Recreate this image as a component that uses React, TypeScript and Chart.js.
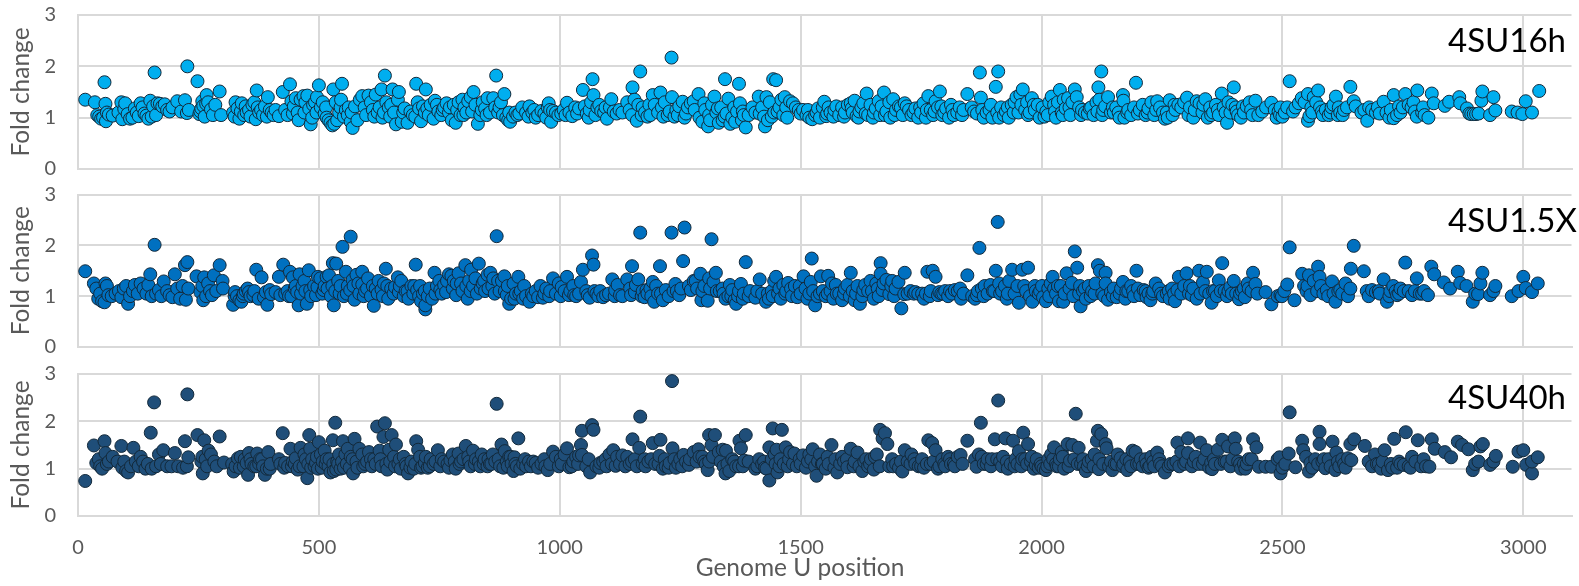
import React, { useEffect, useRef } from "react";
import { Chart, registerables } from "chart.js";

Chart.register(...registerables);

type Pt = [number, number];

const xTickValues = [0, 500, 1000, 1500, 2000, 2500, 3000];
const xMax = 3100;
const yMax = 3;
const panelNames = ["4SU16h", "4SU1.5X", "4SU40h"];
const yAxisLabel = "Fold change";
const xAxisLabel = "Genome U position";

// [genome U position, fold change]
const series16h: Pt[] = [
[15,1.35],[35,1.3],[40,1.05],[44,1.02],[48,.98],[52,1.0],[55,1.69],[57,1.27],[58,.93],[60,1.1],[64,1.06],[72,1.04],[84,1.1],[90,1.3],[92,.97],[96,1.17],[98,1.28],
[103,1.07],[108,.98],[113,1.0],[118,1.18],[122,1.1],[126,1.03],[130,1.28],[134,1.2],[138,1.08],[142,1.04],[146,.98],[150,1.33],[153,1.02],[156,1.22],[159,1.88],[162,1.05],[165,1.28],[170,1.27],[175,1.22],[180,1.26],[185,1.15],[190,1.12],[196,1.2],
[206,1.32],[214,1.12],[222,1.34],[226,1.09],[227,2.0],[230,1.15],[248,1.71],[252,1.07],[254,1.12],[256,1.18],[258,1.32],[260,1.23],[263,1.02],[266,1.27],[267,1.44],[270,1.3],[276,1.16],[280,1.05],[285,1.25],[294,1.51],[297,1.05],
[322,1.1],[327,1.3],[331,1.18],[335,.98],[340,1.28],[345,1.05],[350,1.1],[355,1.15],[362,1.25],[366,1.3],[369,.97],[371,1.53],[376,1.1],[380,1.15],[384,1.05],[388,1.22],[394,1.4],[398,1.15],[402,1.1],[406,1.05],
[417,1.03],[425,1.5],[430,1.15],[440,1.65],[443,1.32],[448,1.22],[452,1.38],[456,1.1],[458,.95],[462,1.35],[468,1.42],[472,1.3],[476,1.43],[480,1.17],[483,.87],[488,1.25],[492,1.3],[496,1.4],[500,1.63],
[504,1.2],[508,1.3],[512,1.08],[516,1.0],[520,.95],[524,.9],[528,.85],[530,1.55],[532,.88],[535,1.3],[538,.95],[542,1.1],[546,1.35],[548,1.66],[552,1.02],[556,1.15],[562,1.2],[566,.92],[570,.8],[575,1.22],[580,.95],[585,1.35],[590,1.42],
[598,1.05],[603,1.43],[608,1.3],[612,1.15],[618,1.45],[622,1.1],[626,1.2],[630,1.55],[632,1.0],[637,1.82],[640,1.3],[645,1.2],[650,1.25],[653,1.55],[656,1.1],[660,.87],[664,1.35],[666,1.5],[672,.92],[678,1.18],[684,.9],[690,1.12],[695,1.05],[702,1.66],[705,1.3],
[708,1.18],[712,.93],[716,1.22],[720,1.1],[722,1.55],[728,1.05],[732,1.25],[738,.98],[741,1.33],[748,1.12],[754,1.05],[760,1.2],[765,1.28],[770,1.1],[776,.95],[780,1.25],[784,.9],[790,1.3],[794,1.05],[798,1.35],
[802,1.2],[806,1.1],[810,1.32],[815,1.4],[821,1.5],[825,1.25],[830,.88],[835,1.05],[840,1.3],[845,1.18],[850,1.38],[855,1.1],[862,1.38],[868,1.82],[872,1.1],[878,1.3],[882,1.05],[885,1.46],[889,1.0],[893,.95],[897,.92],
[903,1.02],[908,1.1],[912,1.05],[916,1.08],[922,1.2],[930,1.1],[937,1.22],[943,1.1],[950,1.0],[955,1.05],[962,1.13],[968,1.08],[975,1.2],[977,1.28],[980,1.15],[982,.92],[986,1.13],[992,1.1],[997,1.05],
[1003,1.08],[1008,1.15],[1015,1.29],[1020,1.1],[1026,1.03],[1032,1.2],[1040,1.18],[1048,1.54],[1052,1.22],[1056,1.08],[1060,1.0],[1065,1.3],[1068,1.75],[1070,1.44],[1074,1.05],[1078,1.2],[1082,1.25],[1086,1.13],[1092,1.1],[1098,.98],
[1104,1.2],[1107,1.36],[1112,1.12],[1118,1.08],[1124,1.15],[1140,1.3],[1145,1.15],[1151,1.59],[1155,1.35],[1160,.94],[1163,1.25],[1167,1.9],[1172,1.2],[1177,1.1],[1182,1.02],[1188,1.05],[1193,1.44],[1197,1.25],
[1204,1.1],[1209,1.49],[1212,1.2],[1218,1.3],[1224,1.05],[1228,1.12],[1232,2.17],[1233,1.4],[1238,1.02],[1242,1.15],[1248,1.22],[1255,1.31],[1259,1.0],[1266,1.2],[1272,1.28],[1278,1.32],[1288,1.46],[1290,1.0],[1296,.92],
[1302,1.15],[1308,.83],[1310,1.05],[1316,1.25],[1321,1.41],[1325,1.1],[1330,.9],[1335,1.2],[1338,.95],[1343,1.75],[1346,1.08],[1350,1.37],[1354,.88],[1358,1.0],[1364,.92],[1368,1.12],[1372,1.66],[1374,1.28],[1378,.95],[1382,1.05],[1386,.81],[1392,1.05],
[1406,1.1],[1413,1.41],[1420,1.2],[1426,.83],[1429,1.4],[1432,.95],[1436,1.3],[1440,1.02],[1443,1.75],[1449,1.73],[1452,1.12],[1456,1.2],[1460,1.35],[1464,1.05],[1467,1.4],[1472,1.0],[1478,1.32],[1484,1.28],[1490,1.2],[1496,1.15],
[1505,1.15],[1512,1.05],[1518,1.0],[1524,.97],[1530,1.05],[1536,1.18],[1540,1.0],[1546,1.2],[1549,1.31],[1553,1.03],[1558,1.2],[1562,1.1],[1568,1.02],[1574,1.22],[1580,1.05],[1586,1.2],[1592,1.1],[1598,1.25],
[1604,1.28],[1608,1.1],[1612,1.33],[1616,1.03],[1620,1.0],[1626,1.2],[1630,1.28],[1637,1.47],[1640,1.05],[1645,1.25],[1650,1.0],[1656,1.18],[1662,1.32],[1668,1.22],[1673,1.49],[1678,1.12],[1684,1.3],[1686,1.0],[1692,1.36],[1698,1.15],
[1704,1.22],[1708,1.2],[1716,1.28],[1720,1.22],[1730,1.05],[1738,1.18],[1744,1.0],[1750,1.1],[1755,1.28],[1760,1.0],[1765,1.42],[1770,1.15],[1775,1.05],[1780,1.32],[1785,1.2],[1789,1.51],[1794,1.05],[1798,1.1],
[1802,1.18],[1808,1.0],[1812,1.25],[1818,1.05],[1825,1.1],[1830,1.2],[1838,1.15],[1846,1.46],[1860,1.12],[1866,1.08],[1872,1.88],[1874,1.39],[1880,1.0],[1886,1.1],[1892,1.15],[1898,1.0],
[1905,1.6],[1908,1.1],[1910,1.9],[1916,1.2],[1922,1.05],[1926,1.12],[1932,1.0],[1938,1.25],[1944,1.3],[1948,1.4],[1952,1.1],[1956,1.45],[1961,1.55],[1966,1.15],[1970,1.3],[1975,1.1],[1980,1.38],[1986,1.15],[1992,1.25],[1996,1.0],
[2002,1.2],[2006,1.02],[2010,1.12],[2016,1.3],[2021,1.41],[2026,1.25],[2030,1.0],[2034,1.3],[2038,1.54],[2042,1.1],[2046,1.35],[2050,1.18],[2055,1.38],[2060,1.05],[2064,1.3],[2069,1.55],[2073,1.4],[2078,1.2],[2084,1.15],[2090,1.1],[2096,1.08],
[2103,1.2],[2108,1.05],[2114,1.3],[2118,1.59],[2120,1.35],[2124,1.9],[2126,1.05],[2132,1.22],[2138,1.4],[2144,1.1],[2150,1.1],[2155,1.2],[2162,1.0],[2169,1.44],[2170,1.33],[2172,1.0],[2180,1.15],[2186,1.05],[2192,1.2],[2196,1.68],
[2204,1.15],[2210,1.25],[2216,1.05],[2222,1.18],[2228,1.3],[2234,1.05],[2240,1.32],[2246,1.2],[2252,1.1],[2256,.98],[2262,1.0],[2266,1.34],[2272,1.05],[2278,1.15],[2284,1.25],[2290,1.2],[2296,1.3],[2302,1.39],
[2308,1.2],[2315,1.0],[2322,1.32],[2328,1.28],[2334,1.1],[2340,1.36],[2345,1.0],[2350,1.2],[2356,1.1],[2362,1.25],[2368,1.05],[2374,1.47],[2378,1.2],[2385,.9],[2388,1.3],[2392,1.1],[2396,1.25],[2399,1.59],
[2403,1.2],[2408,1.05],[2414,1.0],[2420,1.1],[2426,1.22],[2432,1.3],[2438,1.05],[2444,1.33],[2450,1.05],[2458,1.12],[2466,1.2],[2477,1.29],[2484,1.15],[2488,1.0],[2492,1.12],[2496,1.2],[2500,1.02],
[2505,1.1],[2515,1.71],[2522,1.12],[2534,1.28],[2540,1.38],[2546,1.3],[2553,1.46],[2553,.94],[2556,1.03],[2560,1.2],[2565,1.4],[2570,1.3],[2574,1.53],[2578,1.2],[2584,1.05],[2590,1.15],[2596,1.05],
[2602,1.2],[2606,1.25],[2611,1.41],[2615,1.05],[2620,1.1],[2628,1.15],[2634,1.2],[2641,1.6],[2648,1.32],[2664,1.1],[2670,1.15],[2676,.94],[2680,1.2],[2686,1.15],[2694,1.1],[2702,1.08],
[2710,1.31],[2716,1.1],[2722,1.0],[2731,1.44],[2731,.99],[2738,1.05],[2745,1.1],[2750,1.2],[2755,1.46],[2762,1.25],[2768,1.2],[2772,1.3],[2779,1.02],[2780,1.53],[2790,1.1],[2795,1.05],
[2803,1.0],[2810,1.47],[2814,1.28],[2837,1.23],[2846,1.31],[2867,1.40],[2869,1.28],[2883,1.18],[2888,1.08],[2892,1.07],[2897,1.07],[2902,1.07],[2907,1.08],[2913,1.33],[2915,1.51],[2931,1.05],[2938,1.40],[2942,1.14],[2976,1.12],[2988,1.10],[2998,1.07],[3005,1.32],[3018,1.10],[3033,1.52],
];

// Points packed inside the dense band of each panel
const band16h: Pt[] = [
[325,1.02],[338,1.12],[348,1.22],[358,1.02],[373,1.2],[392,1.02],[410,1.15],[435,1.05],[446,1.08],[470,1.1],[486,1.0],[495,1.1],[515,1.2],[545,1.2],[560,1.05],[568,1.1],[595,1.2],[615,1.02],[635,1.1],[648,1.02],[675,1.1],[700,1.02],[725,1.18],[745,1.25],[757,1.15],[772,1.2],[787,1.15],[800,1.05],[818,1.12],[838,1.15],[848,1.05],[866,1.2],[875,1.2],[895,1.1],[935,1.02],[947,1.15],[972,1.0],[1012,1.05],[1036,1.08],[1062,1.15],[1095,1.2],[1130,1.1],[1150,1.05],[1170,1.05],[1186,1.25],[1215,1.02],[1245,1.05],[1262,1.08],[1280,1.15],[1300,1.28],[1312,.95],[1328,1.18],[1342,1.02],[1362,1.2],[1380,1.12],[1400,1.2],[1415,1.08],[1424,1.02],[1445,1.1],[1470,1.2],[1500,1.08],[1515,1.15],[1533,1.1],[1555,1.08],[1570,1.15],[1590,1.02],[1606,1.18],[1622,1.12],[1635,1.08],[1652,1.1],[1665,1.05],[1675,1.05],[1695,1.05],[1712,1.05],[1725,1.15],[1734,1.1],[1748,1.2],[1762,1.15],[1778,1.12],[1792,1.22],[1815,1.15],[1835,1.05],[1855,1.2],[1877,1.15],[1895,1.25],[1912,1.0],[1930,1.2],[1942,1.1],[1958,1.25],[1972,1.05],[1984,1.25],[2013,1.05],[2028,1.12],[2044,1.05],[2058,1.2],[2082,1.05],[2100,1.18],[2116,1.12],[2128,1.15],[2148,1.2],[2160,1.1],[2178,1.1],[2200,1.08],[2220,1.1],[2238,1.15],[2260,1.1],[2276,1.25],[2305,1.05],[2318,1.15],[2336,1.25],[2352,1.05],[2366,1.15],[2382,1.1],[2405,1.12],[2418,1.22],[2435,1.15],[2495,1.05],[2510,1.2],[2527,1.2],[2562,1.1],[2582,1.12],[2600,1.1],[2617,1.2],[2625,1.05],[2652,1.22],[2698,1.2],[2725,1.15],[2742,1.22],[2775,1.12],[2792,1.2],
];

const series15x: Pt[] = [
[15,1.49],[33,1.25],[38,1.15],[42,.95],[46,1.05],[50,.9],[55,.88],[57,1.25],[60,1.2],[63,1.02],[70,1.0],[78,1.05],[85,1.1],[90,.98],[95,1.15],[100,1.2],
[104,.85],[108,1.0],[114,1.1],[118,1.22],[124,1.05],[130,1.25],[136,1.15],[142,1.05],[146,1.22],[150,1.43],[153,1.0],[159,2.01],[162,1.05],[168,1.12],[173,1.0],[178,1.29],[185,1.1],[190,1.02],[196,.98],
[201,1.43],[206,1.15],[212,.95],[217,1.2],[222,1.61],[224,.93],[227,1.67],[229,1.15],[246,1.39],[254,1.08],[258,1.2],[260,.92],[262,1.37],[266,1.0],[270,1.25],[274,1.1],[278,1.02],[282,1.41],[287,1.1],[294,1.61],[300,1.30],[301,1.15],
[322,.83],[326,1.08],[330,1.0],[335,.92],[339,.89],[344,1.05],[348,1.1],[352,1.15],[358,1.0],[364,1.02],[370,1.52],[375,.95],[381,1.37],[386,.98],[390,1.08],[393,.83],[398,1.12],[401,1.04],
[417,1.38],[420,1.02],[426,1.62],[430,1.05],[435,1.1],[440,1.48],[443,1.0],[446,1.37],[450,1.15],[455,1.08],[458,.82],[460,1.43],[466,1.2],[472,1.1],[475,.85],[479,1.51],[484,1.0],[490,1.2],[494,1.02],[498,1.38],
[503,1.35],[507,1.05],[512,1.2],[516,1.38],[521,1.41],[525,1.0],[529,1.65],[531,.82],[534,1.1],[536,1.64],[540,1.3],[545,1.2],[549,1.97],[552,1.0],[556,1.48],[560,1.2],[566,2.17],[570,1.32],[574,.93],[578,1.42],[584,1.05],[590,1.48],[590,1.23],[596,1.1],
[602,1.35],[608,1.0],[614,.81],[618,1.15],[624,1.3],[630,1.13],[635,1.25],[639,1.54],[644,.95],[650,1.15],[655,1.05],[664,1.37],[668,1.2],[671,1.30],[676,1.0],[680,1.1],[686,.95],[692,1.2],[696,1.05],[701,1.62],
[704,1.12],[708,1.0],[712,.9],[716,1.05],[721,.74],[721,.82],[726,1.0],[730,1.15],[735,.95],[740,1.46],[745,1.2],[750,1.3],[755,1.05],[760,1.22],[764,1.08],[770,1.43],[775,1.4],[780,1.3],[785,1.02],[790,1.45],[795,1.25],
[804,1.61],[809,.95],[812,1.3],[816,1.52],[820,1.2],[825,1.35],[832,1.64],[836,1.15],[840,1.25],[845,1.1],[850,1.42],[856,1.46],[860,1.2],[865,1.05],[869,2.18],[875,1.1],[880,1.3],[885,1.39],[890,1.02],[895,.85],[899,.95],
[904,1.25],[909,1.05],[914,1.38],[919,1.1],[924,.95],[930,1.0],[937,.89],[942,1.05],[950,1.1],[955,.98],[960,1.2],[965,.97],[972,1.15],[980,1.1],[986,1.35],[992,1.05],[998,1.25],
[1004,1.18],[1010,1.1],[1015,1.38],[1019,1.02],[1028,1.2],[1034,1.0],[1040,1.05],[1044,1.28],[1048,1.52],[1055,1.1],[1062,.97],[1067,1.80],[1070,1.62],[1076,1.05],[1084,1.1],[1090,.98],[1096,1.02],
[1102,1.05],[1109,1.33],[1114,1.0],[1120,1.22],[1125,1.02],[1140,1.33],[1146,1.15],[1150,1.59],[1156,1.08],[1163,1.33],[1167,2.25],[1172,1.1],[1176,.98],[1182,1.05],[1188,1.15],[1193,1.28],[1196,.89],
[1204,1.05],[1208,1.59],[1214,.92],[1220,1.12],[1226,1.0],[1232,2.25],[1236,1.1],[1240,1.24],[1248,1.02],[1256,1.69],[1259,2.35],[1268,1.2],[1278,1.3],[1285,1.15],[1292,1.44],[1294,.92],[1300,1.2],
[1307,.91],[1310,1.35],[1315,2.12],[1319,1.28],[1324,1.46],[1332,1.1],[1338,1.15],[1344,.95],[1350,1.0],[1353,1.22],[1358,1.12],[1363,.92],[1366,.85],[1370,1.0],[1376,1.24],[1382,1.05],[1386,1.67],[1392,1.0],
[1406,.97],[1415,1.33],[1420,1.05],[1428,.89],[1434,.95],[1440,1.1],[1445,1.3],[1449,1.38],[1453,1.05],[1459,.95],[1464,1.22],[1470,1.1],[1474,1.26],[1480,1.15],[1488,1.2],[1493,.98],[1500,1.05],
[1506,1.39],[1510,1.15],[1514,.95],[1521,1.28],[1523,1.74],[1526,1.1],[1530,.82],[1535,1.0],[1542,1.39],[1546,1.1],[1552,1.0],[1557,1.40],[1562,1.1],[1568,.95],[1573,1.22],[1580,1.05],[1586,.92],[1592,1.15],[1597,1.22],
[1604,1.46],[1608,1.1],[1612,.92],[1618,1.2],[1623,.85],[1628,1.0],[1634,1.22],[1640,1.1],[1645,1.3],[1652,.95],[1657,1.25],[1662,1.0],[1666,1.65],[1666,1.44],[1672,1.25],[1678,1.32],[1684,1.04],[1690,1.3],[1697,1.15],
[1703,1.28],[1709,.76],[1715,1.04],[1716,1.46],[1728,1.1],[1738,1.08],[1744,1.05],[1752,1.05],[1756,.95],[1763,1.48],[1768,1.0],[1774,1.5],[1780,1.38],[1785,1.02],[1792,1.05],[1800,1.1],
[1806,1.0],[1814,1.05],[1820,1.12],[1826,1.1],[1831,1.15],[1833,.95],[1846,1.41],[1862,.95],[1868,1.1],[1871,1.95],[1876,1.15],[1882,1.2],[1888,1.05],[1894,1.22],[1899,1.1],
[1905,1.5],[1909,2.46],[1912,1.25],[1918,1.1],[1924,1.2],[1928,.95],[1933,1.3],[1939,1.52],[1944,1.05],[1953,.87],[1960,1.52],[1964,1.2],[1972,1.56],[1976,1.0],[1981,.89],[1988,1.1],[1994,1.05],
[1997,1.10],[2003,.98],[2009,.90],[2014,1.15],[2019,1.25],[2023,1.38],[2030,1.05],[2036,.9],[2040,1.2],[2045,.89],[2052,1.45],[2058,1.15],[2063,1.26],[2069,1.88],[2074,1.56],[2078,1.05],[2081,.80],[2086,1.1],[2092,.95],[2098,1.2],
[2105,1.1],[2112,1.25],[2117,1.61],[2121,1.5],[2126,1.05],[2133,1.46],[2133,1.25],[2138,.93],[2144,1.08],[2150,1.15],[2156,.98],[2162,1.05],[2169,1.28],[2174,.95],[2180,1.1],[2186,1.2],[2192,1.0],[2197,1.5],
[2205,1.02],[2212,1.12],[2218,.98],[2222,1.05],[2226,.92],[2232,1.1],[2237,1.25],[2244,1.15],[2252,1.0],[2260,1.05],[2266,.95],[2271,1.15],[2277,.90],[2285,1.38],[2290,1.05],[2296,1.2],[2301,1.45],
[2308,1.2],[2315,1.15],[2322,.95],[2327,1.5],[2335,1.27],[2343,1.48],[2348,1.05],[2353,.87],[2360,1.1],[2368,1.31],[2375,1.65],[2380,1.1],[2385,1.0],[2392,1.18],[2399,1.30],[2404,1.05],[2410,.94],[2416,1.1],[2422,.98],
[2430,1.15],[2439,1.46],[2444,1.24],[2448,1.05],[2465,1.08],[2477,.84],[2490,1.0],[2496,1.02],[2499,1.0],[2504,1.1],[2510,1.23],[2515,1.96],[2525,.92],
[2541,1.44],[2545,1.2],[2550,1.1],[2555,1.41],[2558,1.02],[2565,1.3],[2574,1.58],[2577,1.38],[2585,1.05],[2592,1.12],[2603,1.29],[2606,1.05],[2610,.89],[2616,1.1],[2624,1.05],[2631,1.25],[2641,1.15],[2642,1.54],[2648,1.99],[2669,1.49],
[2675,1.1],[2679,1.0],[2686,1.12],[2694,1.08],[2702,1.05],[2710,1.33],[2717,.89],[2724,1.1],[2730,1.2],[2738,1.02],[2745,1.15],[2755,1.66],[2762,1.1],[2769,1.02],[2779,1.35],[2785,1.05],[2794,1.1],[2802,1.02],
[2809,1.58],[2815,1.43],[2835,1.27],[2848,1.15],[2864,1.48],[2869,1.26],[2882,1.2],[2895,.89],[2900,1.05],[2906,1.04],[2911,1.25],[2915,1.46],[2931,1.02],[2938,1.1],[2942,1.2],[2976,1.0],[2990,1.1],[3000,1.38],[3005,1.16],[3018,1.08],[3030,1.25],
];

const band15x: Pt[] = [
[325,1.0],[342,1.0],[355,1.08],[366,1.1],[410,1.08],[438,1.0],[452,1.2],[463,1.05],[470,1.3],[482,1.12],[497,1.18],[510,1.12],[518,1.15],[528,1.2],[543,1.05],[558,1.05],[565,1.12],[572,1.2],[582,1.25],[593,1.0],[600,1.15],[612,1.2],[622,1.05],[633,1.0],[642,1.2],[658,1.18],[666,1.08],[684,1.1],[698,1.2],[710,1.2],[720,1.1],[742,1.05],[752,1.12],[766,1.3],[778,1.15],[786,1.25],[798,1.1],[806,1.2],[815,1.1],[828,1.05],[843,1.3],[852,1.15],[862,1.35],[872,1.3],[886,1.1],[892,1.2],[906,.95],[916,1.05],[926,1.2],[945,1.0],[968,1.05],[978,1.0],[1002,1.0],[1022,1.1],[1030,1.02],[1058,1.02],[1072,1.1],[1080,1.0],[1115,1.12],[1130,1.0],[1148,1.02],[1158,1.22],[1170,1.0],[1180,1.12],[1190,1.0],[1200,1.2],[1210,1.05],[1243,1.1],[1252,1.15],[1272,1.12],[1282,1.3],[1296,1.1],[1312,1.15],[1326,1.1],[1340,1.05],[1356,1.0],[1372,1.1],[1380,.95],[1395,1.1],[1410,1.1],[1432,1.05],[1442,1.0],[1456,1.15],[1468,1.05],[1482,1.0],[1498,1.2],[1518,1.05],[1540,1.05],[1556,1.05],[1565,1.25],[1575,1.05],[1590,1.05],[1602,1.0],[1615,1.05],[1630,1.12],[1648,1.1],[1660,1.15],[1670,1.12],[1688,1.2],[1694,1.0],[1722,1.05],[1735,1.05],[1760,1.05],[1770,1.1],[1788,1.08],[1796,1.05],[1810,1.1],[1838,1.05],[1856,1.0],[1866,1.02],[1880,1.0],[1902,1.1],[1914,1.05],[1930,1.05],[1950,1.2],[1968,1.1],[1986,1.2],[2001,1.2],[2016,1.0],[2026,1.15],[2034,1.2],[2048,1.05],[2066,1.0],[2080,1.2],[2090,1.15],[2102,1.0],[2110,1.05],[2130,1.0],[2148,1.0],[2165,1.15],[2176,1.1],[2190,1.1],[2200,1.15],[2216,1.1],[2230,1.05],[2248,1.05],[2264,1.1],[2275,1.05],[2282,1.12],[2306,1.05],[2312,1.02],[2330,1.05],[2340,1.1],[2356,1.1],[2364,1.0],[2372,1.1],[2388,1.1],[2395,1.05],[2412,1.05],[2420,1.15],[2428,1.25],[2436,1.1],[2552,1.2],[2572,1.1],[2580,1.2],[2595,1.0],[2620,1.12],[2636,1.0],[2700,1.1],[2722,1.0],[2735,1.1],[2742,1.05],[2752,1.1],[2775,1.1],[2790,1.05],
];

const series40h: Pt[] = [
[15,.74],[33,1.49],[38,1.12],[43,1.2],[46,1.05],[50,1.0],[55,1.58],[57,1.33],[60,1.1],[64,1.15],[72,1.25],[82,1.15],[90,1.48],[92,1.02],[96,1.15],[100,.95],
[104,.92],[110,1.05],[115,1.44],[120,1.15],[126,1.05],[130,1.25],[135,1.15],[140,1.0],[145,1.1],[151,1.76],[153,1.0],[158,2.4],[162,1.05],[168,1.3],[172,1.1],[177,1.39],[185,1.05],[194,1.05],
[201,1.33],[208,1.05],[218,1.02],[222,1.58],[226,1.05],[227,2.57],[229,1.24],[248,1.71],[256,1.15],[258,1.25],[259,.9],[262,1.6],[265,1.2],[268,1.05],[271,1.38],[276,1.3],[283,1.15],[288,1.05],[294,1.68],[303,1.13],
[323,.94],[327,1.05],[332,1.22],[338,1.25],[344,1.05],[350,1.12],[353,.87],[355,1.33],[360,1.1],[366,1.05],[372,1.32],[378,1.2],[384,1.05],[388,.87],[392,1.0],[395,1.35],[400,1.1],
[417,1.2],[425,1.75],[430,1.12],[436,1.05],[441,1.42],[446,1.15],[452,1.22],[456,.98],[462,1.44],[468,1.05],[473,1.2],[476,.8],[480,1.71],[482,1.42],[486,1.2],[491,1.05],[496,1.25],[500,1.56],
[504,1.3],[508,1.15],[512,1.38],[516,1.2],[520,1.05],[524,.92],[529,1.6],[531,.95],[534,1.97],[536,.98],[540,1.1],[545,1.0],[550,1.58],[555,1.3],[560,1.42],[566,1.25],[571,.9],[574,1.63],[578,1.15],[584,1.42],[590,1.3],[596,1.1],
[604,1.35],[610,1.05],[615,1.2],[621,1.89],[626,1.38],[630,1.05],[634,1.67],[637,1.96],[642,.98],[646,1.4],[651,1.71],[656,1.25],[660,1.51],[665,1.1],[670,1.0],[676,1.25],[682,1.05],[685,.9],[692,1.15],[697,1.0],
[702,1.58],[706,1.4],[710,1.25],[715,1.05],[720,1.12],[726,1.02],[732,1.2],[738,1.1],[747,1.39],[752,1.05],[760,1.15],[767,1.1],[773,1.18],[778,1.3],[784,1.0],[790,1.32],[795,1.15],
[805,1.48],[810,1.25],[815,1.05],[820,1.38],[826,1.2],[832,1.15],[838,1.3],[844,1.2],[850,1.05],[855,1.1],[861,1.3],[869,2.37],[873,1.2],[879,1.51],[883,1.02],[886,1.37],[890,1.15],[895,1.25],[900,1.1],
[904,.95],[906,1.24],[911,1.05],[914,1.64],[918,1.0],[924,1.1],[930,1.05],[936,1.15],[945,1.15],[955,1.02],[962,1.1],[968,1.2],[975,.97],[980,1.1],[986,1.36],[992,1.25],[998,1.05],
[1004,1.1],[1010,1.3],[1015,1.43],[1020,1.03],[1028,1.15],[1034,1.25],[1040,1.28],[1044,1.5],[1046,1.8],[1046,1.29],[1055,1.05],[1063,.92],[1067,1.92],[1070,1.82],[1076,1.05],[1084,1.12],[1090,1.15],[1097,1.05],
[1103,1.3],[1111,1.39],[1116,1.06],[1119,1.25],[1130,1.28],[1140,1.25],[1145,1.1],[1151,1.62],[1156,1.2],[1165,1.44],[1167,2.1],[1172,1.1],[1178,1.05],[1184,1.15],[1193,1.54],[1198,1.1],
[1207,1.27],[1209,1.61],[1214,1.0],[1220,1.05],[1228,1.12],[1233,2.85],[1234,1.43],[1241,1.02],[1250,1.2],[1257,1.29],[1262,1.15],[1270,1.2],[1278,1.35],[1288,1.41],[1296,1.25],[1303,1.1],
[1307,.97],[1310,1.71],[1310,1.15],[1315,1.5],[1322,1.71],[1330,1.35],[1338,1.4],[1344,.9],[1345,1.38],[1352,.95],[1358,1.2],[1366,1.05],[1373,1.59],[1376,1.43],[1380,1.05],[1383,1.17],[1386,1.71],
[1406,1.0],[1414,1.2],[1420,1.1],[1426,1.02],[1429,1.0],[1435,.75],[1435,1.45],[1442,1.85],[1446,1.3],[1450,1.4],[1452,.92],[1456,1.05],[1461,1.82],[1469,1.45],[1473,1.05],[1478,1.35],[1487,1.32],[1492,1.05],[1500,1.1],
[1505,1.28],[1511,1.02],[1518,1.3],[1525,1.41],[1530,1.05],[1533,.85],[1540,1.3],[1546,1.1],[1552,1.0],[1556,1.25],[1564,1.5],[1570,1.02],[1576,.92],[1582,1.1],[1590,1.15],[1597,1.03],
[1604,1.42],[1610,1.05],[1618,1.34],[1628,.95],[1632,1.15],[1640,1.05],[1646,1.2],[1652,.98],[1658,1.3],[1665,1.82],[1670,1.64],[1675,1.75],[1680,1.52],[1684,1.05],[1690,1.2],[1698,1.1],
[1704,1.02],[1711,.94],[1716,1.39],[1722,1.15],[1730,1.3],[1738,1.1],[1745,1.05],[1752,1.2],[1756,1.02],[1765,1.6],[1770,1.1],[1773,1.54],[1780,1.39],[1785,1.0],[1794,1.2],[1800,1.05],
[1806,1.25],[1812,1.1],[1820,1.05],[1826,1.25],[1832,1.29],[1846,1.59],[1865,1.04],[1870,1.3],[1874,1.97],[1880,1.1],[1888,1.2],[1895,1.05],
[1903,1.62],[1910,2.44],[1914,1.15],[1920,1.25],[1925,1.64],[1930,1.0],[1936,1.1],[1941,1.59],[1946,1.2],[1953,1.37],[1958,1.05],[1962,1.76],[1966,1.2],[1972,1.52],[1978,1.15],[1984,1.0],[1988,1.08],[1994,1.02],
[1998,1.1],[2004,1.0],[2009,.97],[2014,1.2],[2020,1.3],[2026,1.45],[2032,1.05],[2038,1.2],[2042,1.35],[2047,1.0],[2054,1.52],[2059,1.17],[2064,1.5],[2071,2.16],[2077,1.44],[2082,1.1],[2088,1.05],[2092,.95],[2098,1.15],
[2104,1.2],[2110,1.3],[2115,1.59],[2117,1.8],[2119,.99],[2124,1.73],[2133,1.52],[2135,1.43],[2140,1.05],[2147,.97],[2152,1.1],[2158,1.3],[2164,1.22],[2170,1.1],[2178,.97],[2183,1.15],[2189,1.38],[2195,1.35],
[2203,1.1],[2210,1.05],[2216,1.2],[2222,1.02],[2228,1.25],[2234,1.05],[2240,1.34],[2246,1.1],[2256,.92],[2264,1.05],[2274,1.1],[2282,1.55],[2290,1.35],[2296,1.1],[2304,1.64],[2304,1.33],
[2312,1.05],[2320,1.25],[2329,1.55],[2335,1.1],[2343,1.39],[2348,1.02],[2354,.99],[2360,1.1],[2366,1.4],[2375,1.61],[2380,1.15],[2387,1.47],[2392,1.05],[2401,1.64],[2403,1.42],[2408,1.15],[2414,1.0],[2420,1.1],
[2423,1.0],[2430,1.2],[2439,1.62],[2446,1.45],[2451,1.04],[2465,1.04],[2477,1.04],[2490,1.2],[2494,1.24],[2496,.9],[2500,1.02],[2506,1.1],[2513,1.32],[2515,2.19],[2527,1.03],
[2541,1.59],[2543,1.39],[2549,1.25],[2555,.94],[2562,1.02],[2568,1.2],[2577,1.78],[2577,1.52],[2583,1.15],[2589,1.01],[2596,1.2],[2604,1.57],[2610,.97],[2612,1.34],[2618,1.05],[2624,1.2],[2631,1.02],[2636,1.22],[2641,1.52],[2643,1.18],[2649,1.62],[2671,1.48],
[2679,1.15],[2686,1.05],[2692,1.3],[2700,1.1],[2705,1.0],[2712,1.39],[2719,.97],[2725,1.1],[2732,1.63],[2738,1.02],[2745,1.1],[2756,1.77],[2762,1.05],[2769,1.25],[2781,1.6],[2788,1.05],[2793,1.2],[2805,1.04],
[2810,1.62],[2816,1.42],[2837,1.35],[2850,1.24],[2864,1.57],[2873,1.5],[2886,1.41],[2895,.97],[2900,1.1],[2907,1.15],[2911,1.47],[2916,1.52],[2931,1.08],[2938,1.15],[2943,1.27],[2978,1.04],[2990,1.36],[3000,1.39],[3006,1.08],[3018,.9],[3018,1.15],[3030,1.24],
];

const band40h: Pt[] = [
[320,1.1],[336,1.02],[346,1.2],[358,1.2],[370,1.05],[376,1.1],[382,1.2],[398,1.0],[420,1.1],[428,1.02],[444,1.05],[450,1.1],[460,1.05],[470,1.3],[478,1.1],[484,1.02],[494,1.12],[498,1.0],[506,1.02],[514,1.1],[522,1.2],[530,1.1],[538,1.15],[542,1.3],[548,1.15],[552,1.02],[558,1.1],[564,1.02],[570,1.2],[580,1.02],[592,1.05],[600,1.15],[608,1.2],[618,1.1],[628,1.2],[640,1.1],[648,1.15],[658,1.05],[668,1.2],[680,1.1],[690,1.02],[700,1.1],[712,1.02],[722,1.25],[730,1.05],[742,1.15],[755,1.2],[770,1.02],[782,1.15],[792,1.1],[800,1.2],[812,1.15],[824,1.1],[835,1.05],[842,1.1],[852,1.2],[858,1.1],[866,1.15],[876,1.05],[892,1.05],[898,1.25],[908,1.1],[928,1.2],[940,1.05],[950,1.12],[970,1.05],[1002,1.2],[1025,1.05],[1038,1.1],[1060,1.2],[1082,1.02],[1095,1.2],[1108,1.1],[1125,1.1],[1136,1.05],[1150,1.15],[1160,1.05],[1176,1.2],[1190,1.2],[1205,1.1],[1218,1.2],[1226,1.02],[1238,1.2],[1246,1.1],[1254,1.05],[1268,1.08],[1284,1.15],[1290,1.25],[1300,1.15],[1318,1.25],[1334,1.15],[1340,1.05],[1348,1.1],[1362,1.15],[1372,1.05],[1392,1.15],[1410,1.05],[1424,1.15],[1440,1.2],[1448,1.1],[1458,1.2],[1465,1.1],[1476,1.2],[1484,1.1],[1498,1.2],[1515,1.15],[1522,1.2],[1536,1.15],[1544,1.1],[1558,1.1],[1572,1.2],[1586,1.25],[1596,1.2],[1612,1.15],[1622,1.05],[1636,1.2],[1644,1.1],[1654,1.25],[1664,1.05],[1692,1.05],[1708,1.15],[1728,1.1],[1736,1.2],[1750,1.05],[1762,1.1],[1776,1.15],[1788,1.05],[1798,1.1],[1810,1.2],[1818,1.1],[1836,1.1],[1862,1.2],[1876,1.25],[1886,1.1],[1897,1.2],[1908,1.2],[1918,1.05],[1928,1.15],[1944,1.05],[1950,1.1],[1960,1.2],[1970,1.1],[1980,1.25],[1990,1.2],[2000,1.05],[2012,1.05],[2018,1.1],[2024,1.2],[2030,1.1],[2036,1.05],[2044,1.25],[2056,1.05],[2068,1.2],[2075,1.1],[2086,1.2],[2096,1.05],[2108,1.05],[2120,1.2],[2128,1.1],[2144,1.15],[2156,1.1],[2168,1.05],[2176,1.2],[2186,1.05],[2198,1.1],[2206,1.2],[2218,1.1],[2225,1.05],[2232,1.15],[2244,1.2],[2250,1.05],[2268,1.1],[2280,1.15],[2286,1.05],[2300,1.15],[2316,1.15],[2326,1.1],[2338,1.2],[2352,1.12],[2358,1.2],[2372,1.1],[2384,1.15],[2396,1.2],[2412,1.1],[2426,1.1],[2436,1.2],[2558,1.12],[2574,1.1],[2586,1.2],[2600,1.05],[2615,1.15],[2628,1.1],[2696,1.1],[2708,1.15],[2728,1.02],[2742,1.15],[2752,1.08],[2766,1.02],[2776,1.15],[2798,1.05],
];

const panelSeries = [
  [...series16h, ...band16h],
  [...series15x, ...band15x],
  [...series40h, ...band40h],
];
const panelColors = ["#00aeef", "#0070c0", "#1f4e79"];

const GRID = "#d9d9d9";
const TEXT = "#595959";
const FONT = "Lato, Carlito, sans-serif";

const layouts = [
  { canvasTop: 0, canvasHeight: 181, plotTop: 15, plotBottom: 169, labels: false, label: { top: 15, left: 1448 } },
  { canvasTop: 181, canvasHeight: 181, plotTop: 13.5, plotBottom: 166, labels: false, label: { top: 195, left: 1448 } },
  { canvasTop: 362, canvasHeight: 224, plotTop: 12, plotBottom: 154, labels: true, label: { top: 372, left: 1448 } },
];

const zeroPadding = (s: any) => {
  s.paddingTop = 0;
  s.paddingBottom = 0;
  s.paddingLeft = 0;
  s.paddingRight = 0;
};

function Panel({ index }: { index: number }) {
  const ref = useRef<HTMLCanvasElement | null>(null);
  const l = layouts[index];
  useEffect(() => {
    if (!ref.current) return;
    const points = [...panelSeries[index]]
      .sort((a, b) => a[0] - b[0])
      .map(([x, y]) => ({ x, y }));
    const chart = new Chart(ref.current, {
      type: "scatter",
      data: {
        datasets: [
          {
            label: panelNames[index],
            data: points,
            backgroundColor: panelColors[index],
            borderColor: "#13293a",
            borderWidth: 1,
            pointRadius: 6.5,
            clip: false,
          } as any,
        ],
      },
      options: {
        animation: false,
        responsive: false,
        maintainAspectRatio: false,
        layout: { padding: { top: l.plotTop, right: 6, left: 0, bottom: 0 } },
        plugins: { legend: { display: false }, tooltip: { enabled: false } },
        scales: {
          x: {
            type: "linear",
            min: 0,
            max: xMax,
            afterBuildTicks: (s: any) => {
              s.ticks = xTickValues.map((value) => ({ value }));
            },
            afterFit: (s: any) => {
              s.height = l.canvasHeight - l.plotBottom;
              zeroPadding(s);
            },
            ticks: {
              display: l.labels,
              autoSkip: false,
              maxRotation: 0,
              padding: 20,
              color: TEXT,
              font: { family: FONT, size: 20 },
              callback: (v: any) => String(v),
            },
            grid: { color: GRID, lineWidth: 2, drawTicks: false },
            border: { color: GRID, width: 2 },
          },
          y: {
            type: "linear",
            min: 0,
            max: yMax,
            afterFit: (s: any) => {
              s.width = 78;
              zeroPadding(s);
            },
            ticks: {
              stepSize: 1,
              padding: 22,
              color: TEXT,
              font: { family: FONT, size: 20 },
            },
            grid: { color: GRID, lineWidth: 2, drawTicks: false },
            border: { color: GRID, width: 2 },
            title: {
              display: true,
              text: yAxisLabel,
              color: TEXT,
              font: { family: FONT, size: 24.5 },
              padding: { top: 6, bottom: 0 },
            },
          },
        },
      },
    });
    return () => chart.destroy();
  }, [index]);
  return (
    <canvas
      ref={ref}
      width={1579}
      height={l.canvasHeight}
      style={{ position: "absolute", left: 0, top: l.canvasTop, width: 1579, height: l.canvasHeight }}
    />
  );
}

export default function App() {
  return (
    <div style={{ position: "absolute", left: 0, top: 0, width: 1579, height: 586, overflow: "hidden", background: "#fff" }}>
      {panelNames.map((_, i) => (
        <Panel key={i} index={i} />
      ))}
      {panelNames.map((name, i) => (
        <div
          key={name}
          style={{
            position: "absolute",
            left: layouts[i].label.left,
            top: layouts[i].label.top,
            fontFamily: FONT,
            fontSize: 33,
            lineHeight: "48px",
            color: "#000",
            whiteSpace: "nowrap",
          }}
        >
          {name}
        </div>
      ))}
      <div
        style={{
          position: "absolute",
          left: 600,
          width: 400,
          top: 552,
          textAlign: "center",
          fontFamily: FONT,
          fontSize: 24.5,
          lineHeight: "30px",
          color: TEXT,
        }}
      >
        {xAxisLabel}
      </div>
    </div>
  );
}
